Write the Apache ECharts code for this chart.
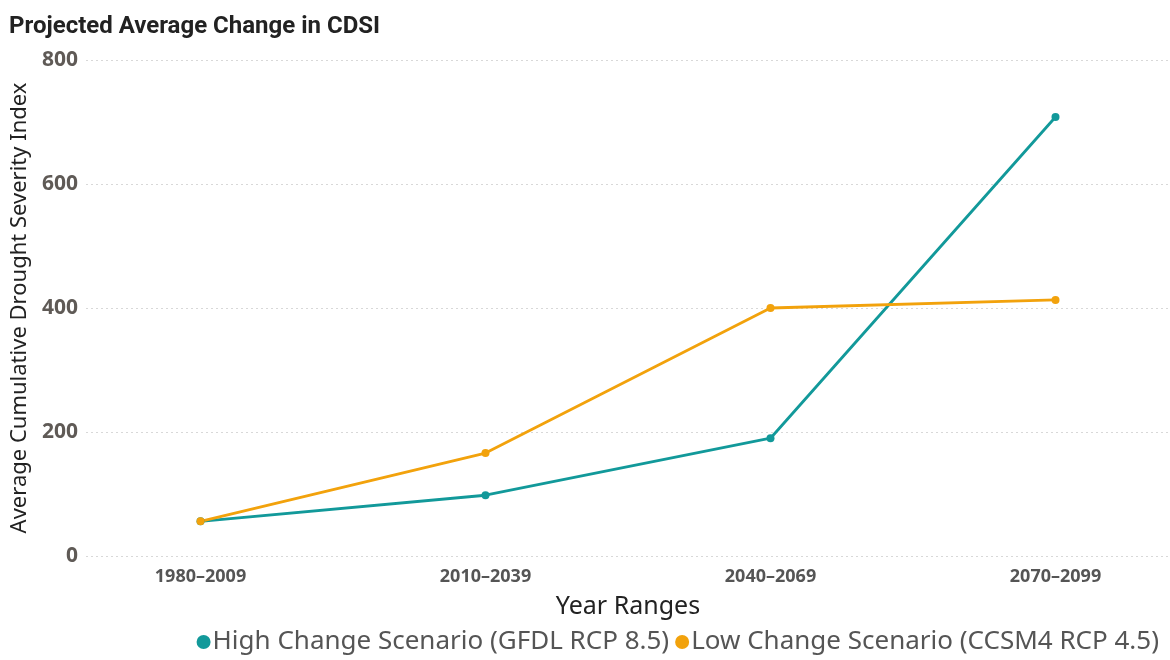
<!DOCTYPE html>
<html>
<head>
<meta charset="utf-8">
<script src="https://cdn.jsdelivr.net/npm/echarts@6/dist/echarts.min.js"></script>
<style>
  html, body { margin: 0; padding: 0; background: #fff; }
  #chart { width: 1170px; height: 660px; }
</style>
</head>
<body>
<div id="chart"></div>
<script>
  // data
  var yearRanges = ['1980–2009', '2010–2039', '2040–2069', '2070–2099'];
  var highChange = [56, 98, 190, 708];
  var lowChange = [56, 166, 400, 413];
  var seriesNames = ['High Change Scenario (GFDL RCP 8.5)', 'Low Change Scenario (CCSM4 RCP 4.5)'];

  var chart = echarts.init(document.getElementById('chart'));

  var option = {
    backgroundColor: '#fff',
    color: ['#12999a', '#f2a20c'],
    title: {
      text: 'Projected Average Change in CDSI',
      left: 4,
      top: 10,
      textStyle: { fontFamily: 'Roboto', fontWeight: 'bold', fontSize: 24, color: '#222' }
    },
    legend: {
      right: 6,
      bottom: 0,
      itemGap: 6,
      itemWidth: 14,
      itemHeight: 14,
      icon: 'circle',
      data: seriesNames,
      textStyle: { fontFamily: 'Noto Sans', fontSize: 26, color: '#555', padding: [0, 0, 0, -3] }
    },
    // grid 0: y labels and gridlines, grid 1: the lines (wider so category bands line up)
    grid: [
      { left: 86, right: 0, top: 60, bottom: 104, outerBoundsMode: 'none' },
      { left: 58, width: 1140, top: 60, bottom: 104, outerBoundsMode: 'none' }
    ],
    xAxis: [
      { type: 'category', gridIndex: 0, data: yearRanges, show: false },
      {
        type: 'category',
        gridIndex: 1,
        data: yearRanges,
        boundaryGap: true,
        name: 'Year Ranges',
        nameLocation: 'middle',
        nameGap: 38,
        nameTextStyle: { fontFamily: 'Noto Sans', fontSize: 25, color: '#222' },
        axisLine: { show: false },
        axisTick: { show: false },
        axisLabel: { margin: 12, fontFamily: 'Noto Sans', fontWeight: 'bold', fontSize: 18, color: '#555' }
      }
    ],
    yAxis: [
      {
        type: 'value',
        gridIndex: 0,
        min: 0,
        max: 800,
        interval: 200,
        name: 'Average Cumulative Drought Severity Index',
        nameLocation: 'middle',
        nameGap: 48,
        nameTextStyle: { fontFamily: 'Noto Sans', fontSize: 22, color: '#222' },
        axisLine: { show: false },
        axisTick: { show: false },
        axisLabel: { margin: 8, fontFamily: 'Noto Sans', fontWeight: 'bold', fontSize: 21, color: '#5f5a56' },
        splitLine: { lineStyle: { type: [2, 3], color: '#d8d8d8', width: 1 } }
      },
      { type: 'value', gridIndex: 1, min: 0, max: 800, interval: 200, show: false, splitLine: { show: false } }
    ],
    series: [
      {
        name: seriesNames[0],
        type: 'line',
        xAxisIndex: 1,
        yAxisIndex: 1,
        data: highChange,
        symbol: 'circle',
        symbolSize: 8,
        lineStyle: { width: 2.8 }
      },
      {
        name: seriesNames[1],
        type: 'line',
        xAxisIndex: 1,
        yAxisIndex: 1,
        data: lowChange,
        symbol: 'circle',
        symbolSize: 8,
        lineStyle: { width: 2.8 }
      }
    ]
  };

  chart.setOption(option);
</script>
</body>
</html>
